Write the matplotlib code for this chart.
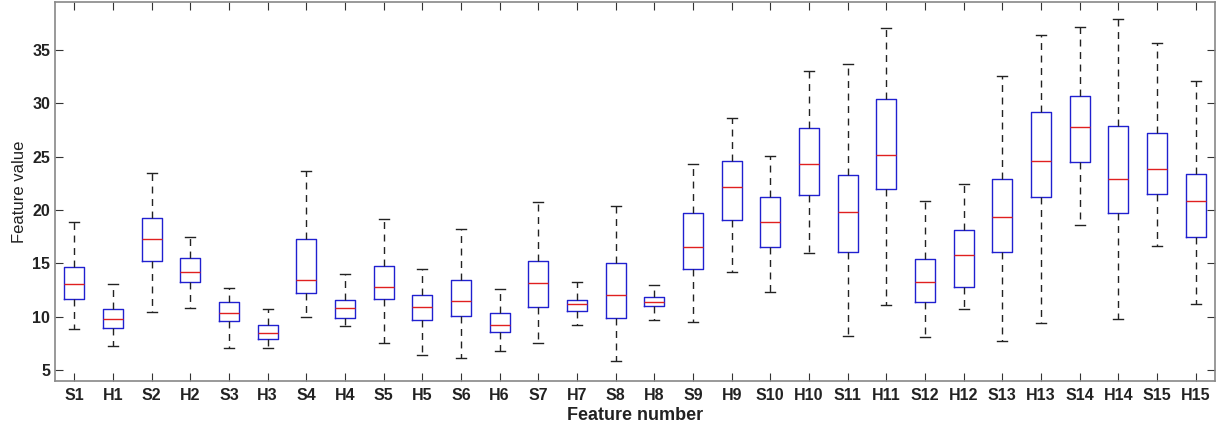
import matplotlib
matplotlib.use("Agg")
import matplotlib.pyplot as plt

labels = ["S1", "H1", "S2", "H2", "S3", "H3", "S4", "H4", "S5", "H5",
          "S6", "H6", "S7", "H7", "S8", "H8", "S9", "H9", "S10", "H10",
          "S11", "H11", "S12", "H12", "S13", "H13", "S14", "H14", "S15", "H15"]
whisker_low = [8.81, 7.28, 10.44, 10.81, 7.03, 7.03, 9.91, 9.13, 7.56, 6.38,
               6.09, 6.78, 7.5, 9.19, 5.84, 9.66, 9.47, 14.22, 12.31, 15.97,
               8.19, 11.09, 8.09, 10.69, 7.69, 9.41, 18.56, 9.78, 16.59, 11.19]
q1 = [11.63, 8.94, 15.16, 13.22, 9.56, 7.91, 12.25, 9.84, 11.66, 9.69,
      10.06, 8.56, 10.88, 10.5, 9.84, 10.94, 14.47, 19.06, 16.56, 21.38,
      16.03, 21.97, 11.34, 12.78, 16.06, 21.19, 24.47, 19.69, 21.47, 17.44]
median = [13.03, 9.78, 17.25, 14.19, 10.34, 8.44, 13.47, 10.81, 12.75, 10.88,
          11.44, 9.25, 13.13, 11.13, 12.03, 11.38, 16.56, 22.19, 18.84, 24.34,
          19.84, 25.13, 13.28, 15.75, 19.31, 24.6, 27.78, 22.88, 23.88, 20.88]
q3 = [14.69, 10.66, 19.25, 15.53, 11.34, 9.19, 17.25, 11.59, 14.72, 12.0,
      13.41, 10.31, 15.19, 11.59, 15.0, 11.84, 19.75, 24.6, 21.25, 27.72,
      23.28, 30.38, 15.38, 18.09, 22.94, 29.22, 30.66, 27.84, 27.19, 23.38]
whisker_high = [18.84, 13.09, 23.47, 17.5, 12.69, 10.72, 23.66, 13.97, 19.13, 14.47,
                18.19, 12.59, 20.72, 13.22, 20.34, 13.0, 24.34, 28.66, 25.03, 33.03,
                33.69, 37.03, 20.84, 22.47, 32.53, 36.38, 37.19, 37.9, 35.66, 32.09]
yticks = [5, 10, 15, 20, 25, 30, 35]

stats = []
for i, lab in enumerate(labels):
    stats.append(dict(label=lab, whislo=whisker_low[i], q1=q1[i], med=median[i],
                      q3=q3[i], whishi=whisker_high[i], fliers=[]))

fig = plt.figure(figsize=(12.25, 4.25), dpi=100)
ax = fig.add_axes([0.0449, 0.1035, 0.9469, 0.8918])
positions = list(range(1, len(labels) + 1))
ax.bxp(stats, positions=positions, widths=0.52, showfliers=False,
       boxprops=dict(color="#2020d0", linewidth=1.0),
       medianprops=dict(color="#e02020", linewidth=1.0),
       whiskerprops=dict(color="#222222", linewidth=1.0, linestyle=(0, (5, 4))),
       capprops=dict(color="#222222", linewidth=1.0),
       capwidths=0.26)

ax.set_xlim(0.5, 30.5)
ax.set_ylim(3.95, 39.5)
ax.set_yticks(yticks)
ax.set_xticks(positions)
ax.set_xticklabels(labels)
for sp in ax.spines.values():
    sp.set_color("#888888")
    sp.set_linewidth(1.2)
ax.tick_params(axis="both", direction="in", length=6, color="#333333",
               top=True, right=True, labelsize=11.5)
ax.tick_params(axis="x", pad=5)
for t in ax.get_xticklabels() + ax.get_yticklabels():
    t.set_fontweight("bold")
    t.set_fontfamily("Liberation Sans")
    t.set_color("#222222")
ax.set_xlabel("Feature number", fontsize=13, fontweight="bold",
              family="Liberation Sans", color="#222222", labelpad=3)
ax.set_ylabel("Feature value", fontsize=12, family="Liberation Sans",
              color="#222222", labelpad=4)
fig.savefig("out.png", dpi=100)
